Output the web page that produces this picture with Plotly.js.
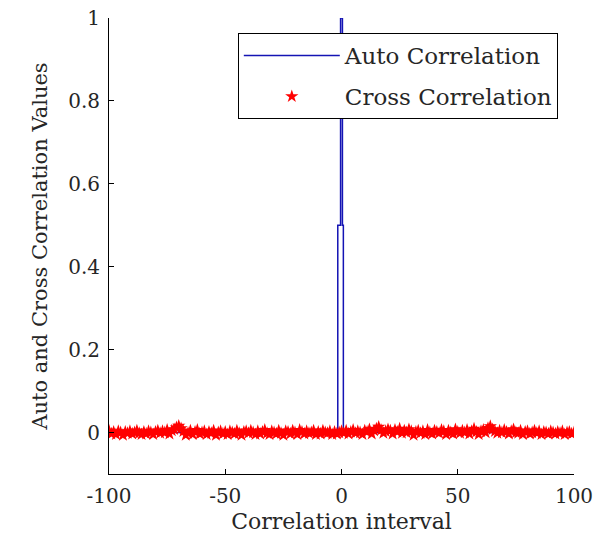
<!DOCTYPE html>
<html>
<head>
<meta charset="utf-8">
<script src="https://cdn.plot.ly/plotly-3.0.1.min.js"></script>
<style>html,body{margin:0;padding:0;background:#fff;}#chart{width:604px;height:541px;}</style>
</head>
<body>
<div id="chart"></div>
<script>
// Auto correlation (lag, value) — spike at zero lag
var autoLag = [-100, -1.6, -1.6, -0.4, -0.4, 0.4, 0.4, 0.8, 0.8, 100];
var autoVal = [0, 0, 0.5, 0.5, 1, 1, 0.5, 0.5, 0, 0];

// Cross correlation lags -100..100
var crossLag = [];
for (var k = -100; k <= 100; k++) crossLag.push(k);
var crossVal = [
  0.0045,-0.003,0.0015,-0.0045,0.003,0.0,-0.006,0.0015,-0.0015,0.003,
  -0.003,0.0,0.0045,-0.0015,-0.0045,0.0015,-0.003,0.003,0.0,-0.0045,
  0.0015,0.0045,-0.0015,0.003,0.0,0.006,-0.003,0.0045,0.0075,0.012,
  0.016,0.010,0.003,-0.006,-0.0015,0.0045,-0.0045,0.0015,0.006,-0.003,
  0.0,0.003,-0.0045,0.0015,-0.0015,0.0045,-0.006,0.0,0.003,-0.003,
  0.0015,-0.0045,0.003,0.0,-0.003,0.0045,-0.0015,-0.006,0.0015,0.003,
  -0.0015,0.0045,0.0,-0.0045,0.003,-0.003,0.0015,0.006,-0.0015,-0.0045,
  0.003,0.0,-0.003,0.0045,-0.0015,-0.006,0.003,0.0015,-0.003,0.0045,
  0.0,-0.0045,0.006,0.0015,-0.003,0.003,-0.0015,0.0,0.0045,-0.0045,
  0.0015,-0.003,0.0045,0.0,-0.0015,0.003,-0.0045,0.0015,-0.003,0.0,
  0.003,
  -0.0015,0.0045,-0.003,0.0015,0.006,-0.0015,0.003,0.0,-0.0045,0.0045,
  0.0015,0.0075,-0.003,0.0045,0.009,0.0135,0.006,-0.0015,0.003,0.0075,
  0.0045,-0.003,0.006,0.0015,0.009,-0.0015,0.0045,0.0,0.0075,0.003,
  -0.006,0.0015,0.0045,-0.0015,0.003,-0.0045,0.006,0.0,-0.003,0.0045,
  0.0015,-0.0015,0.006,0.003,-0.0045,0.0045,0.0,-0.003,0.0075,0.0015,
  -0.0015,0.0045,0.0,0.006,-0.003,0.003,0.009,0.0015,-0.0045,0.003,
  0.006,0.0,0.0105,0.015,0.0075,0.003,-0.0015,0.0045,0.0,0.006,
  0.0015,-0.003,0.003,0.0075,0.0,-0.0015,0.0045,-0.0045,0.0015,0.003,
  -0.003,0.0,0.0045,-0.0015,0.003,-0.0045,0.0015,0.0,-0.003,0.003,
  0.0,-0.003,0.0015,-0.0015,0.003,-0.0045,0.0,0.0015,-0.003,0.0
];

var xTicks = [-100, -50, 0, 50, 100];
var yTicks = [0, 0.2, 0.4, 0.6, 0.8, 1];
var yTickText = ['0', '0.2', '0.4', '0.6', '0.8', '1'];

var font = 'DejaVu Serif, Liberation Serif, serif';
var txt = '#262626';

var traces = [
  {x: autoLag, y: autoVal, type: 'scatter', mode: 'lines', name: 'Auto Correlation',
   legendgroup: 'a', line: {color: '#1414b4', width: 1.5}},
  {x: crossLag, y: crossVal, type: 'scatter', mode: 'markers', name: 'Cross Correlation',
   legendgroup: 'b', marker: {color: '#ff0000', symbol: 'star', size: 10, line: {width: 0}}}
];

var layout = {
  width: 604, height: 541,
  margin: {l: 109, r: 30, t: 18, b: 67},
  paper_bgcolor: '#ffffff', plot_bgcolor: '#ffffff',
  font: {family: font, size: 20, color: txt},
  showlegend: true,
  legend: {x: 0.277, y: 0.967, xanchor: 'left', yanchor: 'top',
    bgcolor: '#ffffff', bordercolor: '#000', borderwidth: 1,
    font: {family: font, size: 23, color: txt}, itemwidth: 96,
    traceorder: 'grouped', tracegroupgap: 8},
  xaxis: {range: [-100, 100], tickvals: xTicks, ticktext: xTicks.map(String),
    showgrid: false, zeroline: false, showline: true, linecolor: '#000', linewidth: 1,
    ticks: 'inside', ticklen: 5, tickcolor: '#000', mirror: false, ticklabelstandoff: 4,
    tickfont: {family: font, size: 20, color: txt},
    title: {text: 'Correlation interval', font: {family: font, size: 22, color: txt}, standoff: 6}},
  yaxis: {range: [-0.1, 1], tickvals: yTicks, ticktext: yTickText,
    showgrid: false, zeroline: false, showline: true, linecolor: '#000', linewidth: 1,
    ticks: 'inside', ticklen: 5, tickcolor: '#000', mirror: false, ticklabelstandoff: 4,
    tickfont: {family: font, size: 20, color: txt},
    title: {text: 'Auto and Cross Correlation Values', font: {family: font, size: 21, color: txt}, standoff: 14}}
};

Plotly.newPlot('chart', traces, layout, {displayModeBar: false, staticPlot: true});
</script>
</body>
</html>
